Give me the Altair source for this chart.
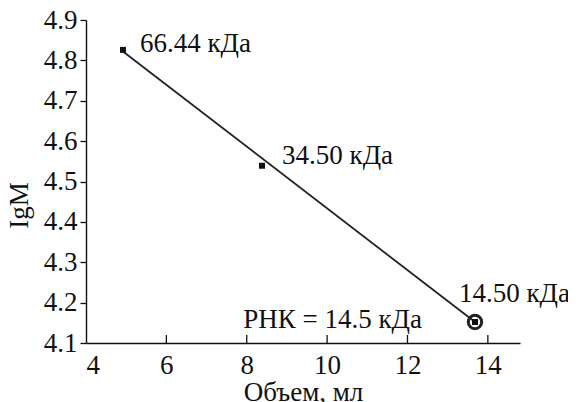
import altair as alt
import pandas as pd

# data
volume = [4.92, 8.38, 13.68]
lgM = [4.826, 4.539, 4.152]
mass_labels = ["66.44 кДа", "34.50 кДа", "14.50 кДа"]
fit_x = [4.92, 13.68]
fit_y = [4.822, 4.152]
x_ticks = [4, 6, 8, 10, 12, 14]
y_ticks = [4.1, 4.2, 4.3, 4.4, 4.5, 4.6, 4.7, 4.8, 4.9]
rna_label = "РНК = 14.5 кДа"

FONT = "Liberation Serif"
FS = 27

pts = pd.DataFrame({"x": volume, "y": lgM, "label": mass_labels})
fit = pd.DataFrame({"x": fit_x, "y": fit_y})
ticks = pd.DataFrame({"x": x_ticks[1:]})

xs = alt.Scale(domain=[4, 14.8], nice=False, zero=False)
ys = alt.Scale(domain=[4.1, 4.9], nice=False, zero=False)

xax = alt.Axis(values=x_ticks, tickSize=0, labelPadding=9, title="Объем, мл",
               titleY=57, titleBaseline="alphabetic", grid=False, format="d")
yax = alt.Axis(values=y_ticks, tickSize=6, labelPadding=3, title="IgM",
               titleX=-59, titleY=185, titleBaseline="alphabetic", grid=False, format=".1f")

line = alt.Chart(fit).mark_line(color="#222222", strokeWidth=1.8).encode(
    x=alt.X("x:Q", scale=xs, axis=xax),
    y=alt.Y("y:Q", scale=ys, axis=yax),
)

squares = alt.Chart(pts).mark_point(shape="square", filled=True, size=36,
                                    color="#111111", opacity=1).encode(
    x=alt.X("x:Q", scale=xs), y=alt.Y("y:Q", scale=ys))

ring = alt.Chart(pts.iloc[[2]]).mark_point(shape="circle", filled=False, size=180,
                                           color="#222222", strokeWidth=3, opacity=1).encode(
    x=alt.X("x:Q", scale=xs), y=alt.Y("y:Q", scale=ys))

offsets = [(17, -6), (20, -10), (-16, -28)]
label_layers = []
for i, (dx, dy) in enumerate(offsets):
    label_layers.append(
        alt.Chart(pts.iloc[[i]]).mark_text(align="left", baseline="middle", dx=dx, dy=dy,
                                           font=FONT, fontSize=FS, color="#111111").encode(
            x=alt.X("x:Q", scale=xs), y=alt.Y("y:Q", scale=ys), text="label:N"))

rna = alt.Chart(pts.iloc[[2]].assign(t=rna_label)).mark_text(
    align="right", baseline="middle", dx=-53, dy=-2, font=FONT, fontSize=FS,
    color="#111111").encode(x=alt.X("x:Q", scale=xs), y=alt.Y("y:Q", scale=ys), text="t:N")

xtick_rules = alt.Chart(ticks).mark_rule(color="#111111", strokeWidth=1.3).encode(
    x=alt.X("x:Q", scale=xs), y=alt.value(323), y2=alt.value(315))

chart = alt.layer(line, squares, ring, *label_layers, rna, xtick_rules).properties(
    width=434, height=323,
    autosize=alt.AutoSizeParams(type="none"),
    padding={"left": 78, "top": 12, "right": 48, "bottom": 59},
    background="white",
).configure_view(stroke=None).configure_axis(
    labelFont=FONT, titleFont=FONT, labelFontSize=FS, titleFontSize=FS,
    labelColor="#111111", titleColor="#111111", titleFontWeight="normal",
    domainColor="#111111", tickColor="#111111", domainWidth=1.4, tickWidth=1.3,
)

chart.save("out.html", embed_options={"renderer": "svg", "actions": False})
